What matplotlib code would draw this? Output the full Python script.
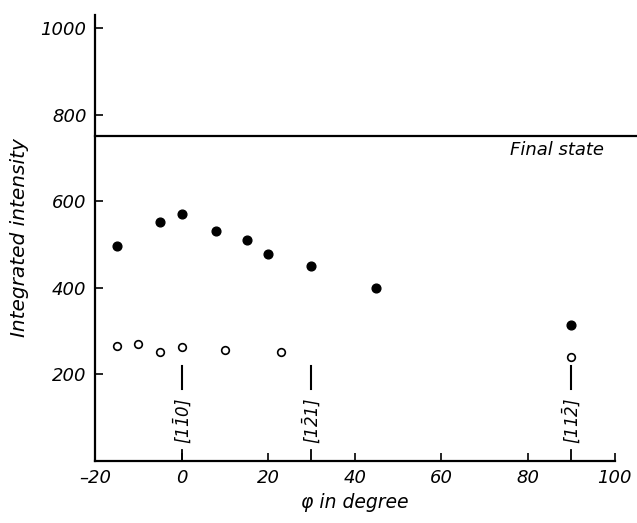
import matplotlib
matplotlib.use('Agg')
import matplotlib.pyplot as plt

# filled circles
phi_filled = [-15, -5, 0, 8, 15, 20, 30, 45, 90]
int_filled = [497, 551, 570, 532, 510, 478, 450, 399, 314]

# open circles
phi_open = [-15, -10, -5, 0, 10, 23, 90]
int_open = [266, 270, 252, 264, 256, 252, 241]

final_state = 750

# crystal directions marked along the axis
dir_phi = [0, 30, 90]
dir_labels = ['[1$\\bar{1}$0]', '[1$\\bar{2}$1]', '[11$\\bar{2}$]']

x_ticks = [-20, 0, 20, 40, 60, 80, 100]
x_ticklabels = ['\u201320', '0', '20', '40', '60', '80', '100']
y_ticks = [200, 400, 600, 800, 1000]

plt.rcParams['font.family'] = ['DejaVu Sans']
plt.rcParams['font.style'] = 'italic'
plt.rcParams['mathtext.default'] = 'it'

fig = plt.figure(figsize=(6.37, 5.23), dpi=100)
ax = fig.add_axes([0.149, 0.119, 0.816, 0.852])

ax.plot(phi_filled, int_filled, 'o', color='black', markersize=6.3, zorder=3)
ax.plot(phi_open, int_open, 'o', markerfacecolor='white', markeredgecolor='black',
        markeredgewidth=1.2, markersize=5.5, zorder=3)

# final state line runs a little past the axis end
ax.plot([-20, 105], [final_state, final_state], color='black', linewidth=1.6, clip_on=False)
ax.text(97.5, final_state - 12, 'Final state', ha='right', va='top', fontsize=13, style='italic')

for phi, lab in zip(dir_phi, dir_labels):
	ax.plot([phi, phi], [0, 24], color='black', linewidth=1.3)
	ax.plot([phi, phi], [166, 220], color='black', linewidth=1.5)
	ax.text(phi, 92, lab, rotation=90, ha='center', va='center', fontsize=12, style='italic')

ax.set_xlim(-20, 100)
ax.set_ylim(0, 1030)
ax.set_xticks(x_ticks)
ax.set_xticklabels(x_ticklabels, fontsize=13, style='italic')
ax.set_yticks(y_ticks)
ax.set_yticklabels([str(v) for v in y_ticks], fontsize=13, style='italic')
ax.tick_params(direction='in', length=6, width=1.2, pad=6)

for side in ['top', 'right']:
	ax.spines[side].set_visible(False)
for side in ['left', 'bottom']:
	ax.spines[side].set_linewidth(1.6)

ax.set_xlabel('\u03c6 in degree', fontsize=13.5, style='italic', labelpad=4)
ax.set_ylabel('Integrated intensity', fontsize=14.5, style='italic', labelpad=8)

fig.savefig('out.png', dpi=100)
